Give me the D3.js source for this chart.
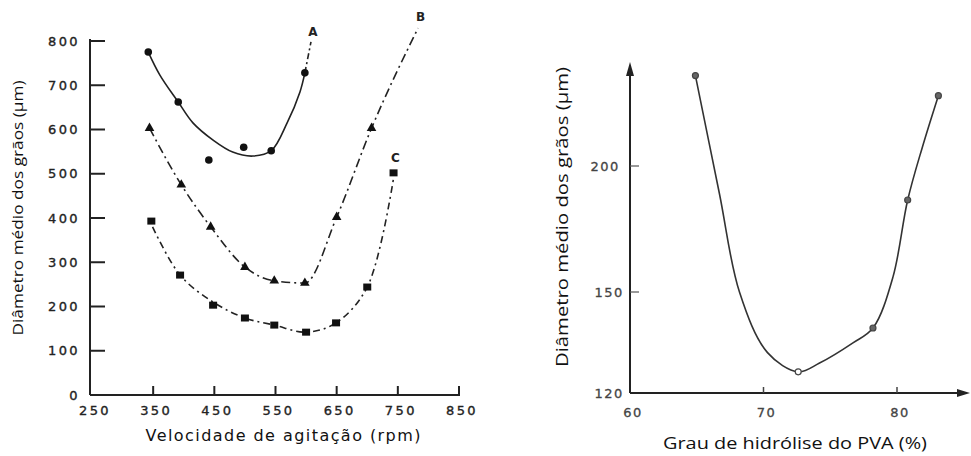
<!DOCTYPE html>
<html>
<head>
<meta charset="utf-8">
<script src="https://cdn.jsdelivr.net/npm/d3@7"></script>
<style>
  body { margin: 0; background: #fff; }
  svg { display: block; }
</style>
</head>
<body>
<svg id="chart" width="971" height="456"></svg>
<script>
// ---- left chart: diameter vs stirring speed ----
const speedTicks = [250, 350, 450, 550, 650, 750, 850];
const diamTicks = [0, 100, 200, 300, 400, 500, 600, 700, 800];

// measured points
const aSpeed = [342, 391, 441, 498, 543, 598];
const aDiam  = [775, 662, 531, 560, 552, 728];
const bSpeed = [344, 396, 444, 500, 548, 598, 650, 707];
const bDiam  = [603, 475, 380, 289, 258, 253, 402, 603];
const cSpeed = [347, 394, 448, 500, 548, 600, 649, 700, 743];
const cDiam  = [393, 271, 203, 174, 158, 142, 163, 244, 502];

// fitted curves
const aCurveSpeed = [342, 361, 391, 415, 448, 480, 513, 543, 569, 590, 598];
const aCurveDiam  = [775, 723, 662, 615, 576, 549, 540, 552, 615, 685, 728];
const aExtSpeed = [598, 608];
const aExtDiam  = [728, 798];
const bCurveSpeed = [344, 396, 444, 500, 548, 598, 650, 707, 783];
const bCurveDiam  = [603, 475, 380, 289, 258, 253, 402, 603, 829];
const cCurveSpeed = [349, 394, 448, 500, 548, 600, 649, 700, 743];
const cCurveDiam  = [380, 271, 210, 174, 158, 142, 163, 244, 490];

// ---- right chart: diameter vs PVA hydrolysis degree ----
const hydTicks = [60, 70, 80];
const sizeTicks = [120, 150, 200];
const hydPts  = [64.9, 72.6, 78.2, 80.8, 83.1];
const sizePts = [236, 126.3, 139.3, 186.5, 228];
const hydCurve  = [64.9, 66.7, 68.2, 70.3, 72.6, 74.2, 76.7, 78.2, 79.7, 80.8, 81.9, 83.1];
const sizeCurve = [236, 189, 150, 132, 126.3, 128.9, 134.9, 139.3, 156, 186.5, 207.5, 228];

const svg = d3.select("#chart");
const ink = "#222";
const tickFont = "'DejaVu Sans', sans-serif";

const zip = (xs, ys) => xs.map((x, i) => [x, ys[i]]);

// ================= LEFT =================
const x1 = d3.scaleLinear().domain([250, 850]).range([92, 459]);
const y1 = d3.scaleLinear().domain([0, 800]).range([395, 41]);

const left = svg.append("g");

// y axis line + inward ticks
left.append("line")
    .attr("x1", 90).attr("x2", 90)
    .attr("y1", y1(800) - 2).attr("y2", y1(0))
    .attr("stroke", ink).attr("stroke-width", 2);
left.selectAll(".ytick").data(diamTicks.filter(d => d > 0)).enter()
    .append("line")
    .attr("x1", 90).attr("x2", 105)
    .attr("y1", d => y1(d)).attr("y2", d => y1(d))
    .attr("stroke", ink).attr("stroke-width", 2);
left.selectAll(".ylab").data(diamTicks).enter()
    .append("text")
    .attr("x", 80).attr("y", d => y1(d))
    .attr("dy", "0.35em")
    .attr("text-anchor", "end")
    .attr("font-family", tickFont).attr("font-size", 13)
    .attr("letter-spacing", "2.4px")
    .attr("fill", "#222").attr("stroke", "#222").attr("stroke-width", 0.35)
    .text(d => d);

// x axis line + upward ticks
left.append("line")
    .attr("x1", 90).attr("x2", x1(850) + 1)
    .attr("y1", y1(0)).attr("y2", y1(0))
    .attr("stroke", ink).attr("stroke-width", 2);
left.selectAll(".xtick").data(speedTicks.filter(d => d > 250)).enter()
    .append("line")
    .attr("x1", d => x1(d)).attr("x2", d => x1(d))
    .attr("y1", y1(0)).attr("y2", y1(0) - 9)
    .attr("stroke", ink).attr("stroke-width", 2);
left.selectAll(".xlab").data(speedTicks).enter()
    .append("text")
    .attr("x", d => x1(d) + 3).attr("y", 415)
    .attr("text-anchor", "middle")
    .attr("font-family", tickFont).attr("font-size", 13)
    .attr("letter-spacing", "2.4px")
    .attr("fill", "#222").attr("stroke", "#222").attr("stroke-width", 0.35)
    .text(d => d);

// curves
const line1 = d3.line().x(d => x1(d[0])).y(d => y1(d[1]));
left.append("path")
    .attr("d", line1.curve(d3.curveCatmullRom.alpha(0.5))(zip(aCurveSpeed, aCurveDiam)))
    .attr("fill", "none").attr("stroke", ink).attr("stroke-width", 1.6);
left.append("path")
    .attr("d", line1.curve(d3.curveLinear)(zip(aExtSpeed, aExtDiam)))
    .attr("fill", "none").attr("stroke", ink).attr("stroke-width", 1.6)
    .attr("stroke-dasharray", "6,3,2,3");
left.append("path")
    .attr("d", line1.curve(d3.curveMonotoneX)(zip(bCurveSpeed, bCurveDiam)))
    .attr("fill", "none").attr("stroke", ink).attr("stroke-width", 1.6)
    .attr("stroke-dasharray", "9,4,2,4");
left.append("path")
    .attr("d", line1.curve(d3.curveCatmullRom.alpha(0.5))(zip(cCurveSpeed, cCurveDiam)))
    .attr("fill", "none").attr("stroke", ink).attr("stroke-width", 1.6)
    .attr("stroke-dasharray", "7,4,2,4");

// markers
left.selectAll(".ma").data(zip(aSpeed, aDiam)).enter()
    .append("circle")
    .attr("cx", d => x1(d[0])).attr("cy", d => y1(d[1]))
    .attr("r", 3.8).attr("fill", "#111");
left.selectAll(".mb").data(zip(bSpeed, bDiam)).enter()
    .append("path")
    .attr("transform", d => `translate(${x1(d[0])},${y1(d[1])})`)
    .attr("d", d3.symbol(d3.symbolTriangle, 40))
    .attr("fill", "#111");
left.selectAll(".mc").data(zip(cSpeed, cDiam)).enter()
    .append("rect")
    .attr("x", d => x1(d[0]) - 4).attr("y", d => y1(d[1]) - 3.5)
    .attr("width", 8).attr("height", 7)
    .attr("fill", "#111");

// series letters
const letters = [["A", 611, 820], ["B", 787, 855], ["C", 746, 537]];
left.selectAll(".letter").data(letters).enter()
    .append("text")
    .attr("x", d => x1(d[1])).attr("y", d => y1(d[2]))
    .attr("dy", "0.35em")
    .attr("text-anchor", "middle")
    .attr("font-family", tickFont).attr("font-size", 12)
    .attr("font-weight", "bold")
    .attr("fill", "#222")
    .text(d => d[0]);

// axis titles
left.append("text")
    .attr("x", 283).attr("y", 441)
    .attr("text-anchor", "middle")
    .attr("font-family", tickFont).attr("font-size", 16)
    .attr("textLength", 275).attr("lengthAdjust", "spacing")
    .attr("fill", "#111")
    .text("Velocidade de agitação (rpm)");
left.append("text")
    .attr("transform", "translate(23,208) rotate(-90)")
    .attr("text-anchor", "middle")
    .attr("font-family", "'Open Sans', sans-serif").attr("font-size", 14)
    .attr("textLength", 255).attr("lengthAdjust", "spacingAndGlyphs")
    .attr("fill", "#111")
    .text("Diâmetro médio dos grãos (µm)");

// ================= RIGHT =================
const x2 = d3.scaleLinear().domain([60, 80]).range([630, 897]);
const y2 = d3.scaleLinear().domain([120, 150, 200, 241]).range([393, 292, 166, 63]);

const right = svg.append("g");

// y axis with arrow
right.append("line")
    .attr("x1", 630).attr("x2", 630)
    .attr("y1", 70).attr("y2", y2(120))
    .attr("stroke", ink).attr("stroke-width", 2);
right.append("path")
    .attr("d", "M630,62 L626,76 L634,76 Z")
    .attr("fill", ink);
right.selectAll(".ytick").data(sizeTicks.filter(d => d > 120)).enter()
    .append("line")
    .attr("x1", 630).attr("x2", 639)
    .attr("y1", d => y2(d)).attr("y2", d => y2(d))
    .attr("stroke", "#555").attr("stroke-width", 1.2);
right.selectAll(".ylab").data(sizeTicks).enter()
    .append("text")
    .attr("x", d => d === 200 ? 620 : 624).attr("y", d => y2(d))
    .attr("dy", "0.35em")
    .attr("text-anchor", "end")
    .attr("font-family", tickFont).attr("font-size", 13)
    .attr("letter-spacing", "1.6px")
    .attr("fill", "#444").attr("stroke", "#444").attr("stroke-width", 0.3)
    .text(d => d);

// x axis with arrow
right.append("line")
    .attr("x1", 630).attr("x2", 962)
    .attr("y1", y2(120)).attr("y2", y2(120))
    .attr("stroke", ink).attr("stroke-width", 2);
right.append("path")
    .attr("d", `M970,${y2(120)} L957,${y2(120) - 4} L957,${y2(120) + 4} Z`)
    .attr("fill", ink);
right.selectAll(".xtick").data(hydTicks.filter(d => d > 60)).enter()
    .append("line")
    .attr("x1", d => x2(d)).attr("x2", d => x2(d))
    .attr("y1", y2(120)).attr("y2", y2(120) - 6)
    .attr("stroke", "#444").attr("stroke-width", 1.5);
right.selectAll(".xlab").data(hydTicks).enter()
    .append("text")
    .attr("x", d => x2(d) + 3).attr("y", 417)
    .attr("text-anchor", "middle")
    .attr("font-family", tickFont).attr("font-size", 13)
    .attr("letter-spacing", "1.6px")
    .attr("fill", "#444").attr("stroke", "#444").attr("stroke-width", 0.3)
    .text(d => d);

// curve + markers (the lowest point is drawn hollow, as in the source)
const line2 = d3.line().x(d => x2(d[0])).y(d => y2(d[1])).curve(d3.curveCatmullRom.alpha(0.5));
right.append("path")
    .attr("d", line2(zip(hydCurve, sizeCurve)))
    .attr("fill", "none").attr("stroke", "#333").attr("stroke-width", 1.6);
const minSize = d3.min(sizePts);
right.selectAll(".m").data(zip(hydPts, sizePts)).enter()
    .append("circle")
    .attr("cx", d => x2(d[0])).attr("cy", d => y2(d[1]))
    .attr("r", 3)
    .attr("fill", d => d[1] === minSize ? "#fff" : "#666")
    .attr("stroke", "#444").attr("stroke-width", 1.2);

// axis titles
right.append("text")
    .attr("x", 795).attr("y", 449)
    .attr("text-anchor", "middle")
    .attr("font-family", "'Open Sans', sans-serif").attr("font-size", 17)
    .attr("textLength", 264).attr("lengthAdjust", "spacingAndGlyphs")
    .attr("fill", "#111")
    .text("Grau de hidrólise do PVA (%)");
right.append("text")
    .attr("transform", "translate(568,217) rotate(-90)")
    .attr("text-anchor", "middle")
    .attr("font-family", "'Open Sans', sans-serif").attr("font-size", 17)
    .attr("textLength", 300).attr("lengthAdjust", "spacingAndGlyphs")
    .attr("fill", "#111")
    .text("Diâmetro médio dos grãos (µm)");
</script>
</body>
</html>
